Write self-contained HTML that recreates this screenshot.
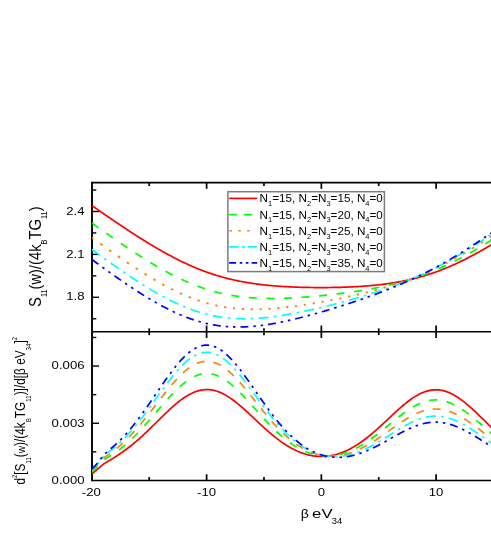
<!DOCTYPE html>
<html><head><meta charset="utf-8"><title>chart</title>
<style>html,body{margin:0;padding:0;background:#fff;}body{width:491px;height:545px;overflow:hidden;font-family:"Liberation Sans",sans-serif;}svg{position:absolute;left:0;top:0}</style>
</head><body>
<svg width="491" height="545" viewBox="0 0 491 545" style="display:block">
<rect width="491" height="545" fill="#fff"/>
<defs><clipPath id="ct"><rect x="92" y="183.4" width="400" height="147.4"/></clipPath><clipPath id="cb"><rect x="92" y="332.3" width="400" height="147.4"/></clipPath></defs>
<g stroke="#000" fill="none">
<line x1="92.0" y1="181.79999999999998" x2="92.0" y2="481.25" stroke-width="1.9"/>
<line x1="92.0" y1="182.6" x2="491" y2="182.6" stroke-width="1.6"/>
<line x1="92.0" y1="331.75" x2="491" y2="331.75" stroke-width="1.6"/>
<line x1="92.0" y1="480.45" x2="491" y2="480.45" stroke-width="1.6"/>
<line x1="149.22" y1="182.6" x2="149.22" y2="186.0" stroke-width="1.7"/>
<line x1="149.22" y1="328.35" x2="149.22" y2="335.15" stroke-width="1.7"/>
<line x1="149.22" y1="477.05" x2="149.22" y2="480.45" stroke-width="1.7"/>
<line x1="206.60" y1="182.6" x2="206.60" y2="188.79999999999998" stroke-width="1.7"/>
<line x1="206.60" y1="325.55" x2="206.60" y2="337.95" stroke-width="1.7"/>
<line x1="206.60" y1="474.25" x2="206.60" y2="480.45" stroke-width="1.7"/>
<line x1="263.98" y1="182.6" x2="263.98" y2="186.0" stroke-width="1.7"/>
<line x1="263.98" y1="328.35" x2="263.98" y2="335.15" stroke-width="1.7"/>
<line x1="263.98" y1="477.05" x2="263.98" y2="480.45" stroke-width="1.7"/>
<line x1="321.35" y1="182.6" x2="321.35" y2="188.79999999999998" stroke-width="1.7"/>
<line x1="321.35" y1="325.55" x2="321.35" y2="337.95" stroke-width="1.7"/>
<line x1="321.35" y1="474.25" x2="321.35" y2="480.45" stroke-width="1.7"/>
<line x1="378.73" y1="182.6" x2="378.73" y2="186.0" stroke-width="1.7"/>
<line x1="378.73" y1="328.35" x2="378.73" y2="335.15" stroke-width="1.7"/>
<line x1="378.73" y1="477.05" x2="378.73" y2="480.45" stroke-width="1.7"/>
<line x1="436.10" y1="182.6" x2="436.10" y2="188.79999999999998" stroke-width="1.7"/>
<line x1="436.10" y1="325.55" x2="436.10" y2="337.95" stroke-width="1.7"/>
<line x1="436.10" y1="474.25" x2="436.10" y2="480.45" stroke-width="1.7"/>
<line x1="493.48" y1="182.6" x2="493.48" y2="186.0" stroke-width="1.7"/>
<line x1="493.48" y1="328.35" x2="493.48" y2="335.15" stroke-width="1.7"/>
<line x1="493.48" y1="477.05" x2="493.48" y2="480.45" stroke-width="1.7"/>
<line x1="92.0" y1="318.75" x2="96.3" y2="318.75" stroke-width="1.4"/>
<line x1="92.0" y1="297.30" x2="99.0" y2="297.30" stroke-width="1.4"/>
<line x1="92.0" y1="275.85" x2="96.3" y2="275.85" stroke-width="1.4"/>
<line x1="92.0" y1="254.40" x2="99.0" y2="254.40" stroke-width="1.4"/>
<line x1="92.0" y1="232.95" x2="96.3" y2="232.95" stroke-width="1.4"/>
<line x1="92.0" y1="211.50" x2="99.0" y2="211.50" stroke-width="1.4"/>
<line x1="92.0" y1="190.05" x2="96.3" y2="190.05" stroke-width="1.4"/>
<line x1="92.0" y1="451.85" x2="96.3" y2="451.85" stroke-width="1.4"/>
<line x1="92.0" y1="423.25" x2="99.0" y2="423.25" stroke-width="1.4"/>
<line x1="92.0" y1="394.65" x2="96.3" y2="394.65" stroke-width="1.4"/>
<line x1="92.0" y1="366.05" x2="99.0" y2="366.05" stroke-width="1.4"/>
<line x1="92.0" y1="337.45" x2="96.3" y2="337.45" stroke-width="1.4"/>
</g>
<g clip-path="url(#ct)" fill="none" stroke-width="1.7">
<path d="M92.0,205.67 L93.0,206.37 L94.0,207.07 L95.0,207.76 L96.0,208.46 L97.0,209.16 L98.0,209.85 L99.0,210.55 L100.0,211.24 L101.0,211.93 L102.0,212.63 L103.0,213.32 L104.0,214.01 L105.0,214.70 L106.0,215.39 L107.0,216.07 L108.0,216.76 L109.0,217.44 L110.0,218.13 L111.0,218.81 L112.0,219.49 L113.0,220.17 L114.0,220.85 L115.0,221.53 L116.0,222.21 L117.0,222.88 L118.0,223.55 L119.0,224.23 L120.0,224.90 L121.0,225.57 L122.0,226.24 L123.0,226.90 L124.0,227.57 L125.0,228.23 L126.0,228.89 L127.0,229.55 L128.0,230.21 L129.0,230.86 L130.0,231.52 L131.0,232.17 L132.0,232.82 L133.0,233.47 L134.0,234.11 L135.0,234.76 L136.0,235.40 L137.0,236.04 L138.0,236.68 L139.0,237.31 L140.0,237.94 L141.0,238.57 L142.0,239.20 L143.0,239.83 L144.0,240.45 L145.0,241.07 L146.0,241.69 L147.0,242.30 L148.0,242.91 L149.0,243.52 L150.0,244.13 L151.0,244.73 L152.0,245.33 L153.0,245.93 L154.0,246.52 L155.0,247.11 L156.0,247.70 L157.0,248.29 L158.0,248.87 L159.0,249.45 L160.0,250.02 L161.0,250.59 L162.0,251.16 L163.0,251.72 L164.0,252.28 L165.0,252.84 L166.0,253.39 L167.0,253.94 L168.0,254.48 L169.0,255.02 L170.0,255.56 L171.0,256.09 L172.0,256.62 L173.0,257.14 L174.0,257.66 L175.0,258.18 L176.0,258.69 L177.0,259.20 L178.0,259.70 L179.0,260.20 L180.0,260.69 L181.0,261.18 L182.0,261.67 L183.0,262.15 L184.0,262.62 L185.0,263.09 L186.0,263.56 L187.0,264.02 L188.0,264.47 L189.0,264.93 L190.0,265.37 L191.0,265.81 L192.0,266.25 L193.0,266.68 L194.0,267.11 L195.0,267.53 L196.0,267.95 L197.0,268.36 L198.0,268.76 L199.0,269.17 L200.0,269.56 L201.0,269.95 L202.0,270.34 L203.0,270.72 L204.0,271.10 L205.0,271.47 L206.0,271.83 L207.0,272.19 L208.0,272.55 L209.0,272.90 L210.0,273.24 L211.0,273.58 L212.0,273.91 L213.0,274.24 L214.0,274.57 L215.0,274.89 L216.0,275.20 L217.0,275.51 L218.0,275.81 L219.0,276.11 L220.0,276.40 L221.0,276.69 L222.0,276.98 L223.0,277.25 L224.0,277.53 L225.0,277.80 L226.0,278.06 L227.0,278.32 L228.0,278.57 L229.0,278.82 L230.0,279.07 L231.0,279.31 L232.0,279.54 L233.0,279.77 L234.0,280.00 L235.0,280.22 L236.0,280.44 L237.0,280.65 L238.0,280.86 L239.0,281.06 L240.0,281.26 L241.0,281.46 L242.0,281.65 L243.0,281.83 L244.0,282.02 L245.0,282.20 L246.0,282.37 L247.0,282.54 L248.0,282.71 L249.0,282.87 L250.0,283.03 L251.0,283.19 L252.0,283.34 L253.0,283.49 L254.0,283.63 L255.0,283.77 L256.0,283.91 L257.0,284.04 L258.0,284.17 L259.0,284.30 L260.0,284.42 L261.0,284.54 L262.0,284.66 L263.0,284.78 L264.0,284.89 L265.0,285.00 L266.0,285.10 L267.0,285.21 L268.0,285.30 L269.0,285.40 L270.0,285.50 L271.0,285.59 L272.0,285.68 L273.0,285.76 L274.0,285.85 L275.0,285.93 L276.0,286.01 L277.0,286.08 L278.0,286.16 L279.0,286.23 L280.0,286.30 L281.0,286.36 L282.0,286.43 L283.0,286.49 L284.0,286.55 L285.0,286.61 L286.0,286.67 L287.0,286.72 L288.0,286.77 L289.0,286.82 L290.0,286.87 L291.0,286.92 L292.0,286.96 L293.0,287.01 L294.0,287.05 L295.0,287.09 L296.0,287.12 L297.0,287.16 L298.0,287.19 L299.0,287.23 L300.0,287.26 L301.0,287.29 L302.0,287.31 L303.0,287.34 L304.0,287.37 L305.0,287.39 L306.0,287.41 L307.0,287.43 L308.0,287.45 L309.0,287.47 L310.0,287.48 L311.0,287.50 L312.0,287.51 L313.0,287.52 L314.0,287.53 L315.0,287.54 L316.0,287.55 L317.0,287.55 L318.0,287.56 L319.0,287.56 L320.0,287.56 L321.0,287.56 L322.0,287.56 L323.0,287.56 L324.0,287.56 L325.0,287.55 L326.0,287.54 L327.0,287.54 L328.0,287.53 L329.0,287.52 L330.0,287.50 L331.0,287.49 L332.0,287.48 L333.0,287.46 L334.0,287.44 L335.0,287.42 L336.0,287.40 L337.0,287.38 L338.0,287.36 L339.0,287.33 L340.0,287.31 L341.0,287.28 L342.0,287.25 L343.0,287.22 L344.0,287.18 L345.0,287.15 L346.0,287.11 L347.0,287.07 L348.0,287.03 L349.0,286.99 L350.0,286.95 L351.0,286.91 L352.0,286.86 L353.0,286.81 L354.0,286.76 L355.0,286.71 L356.0,286.65 L357.0,286.60 L358.0,286.54 L359.0,286.48 L360.0,286.42 L361.0,286.35 L362.0,286.28 L363.0,286.21 L364.0,286.14 L365.0,286.07 L366.0,285.99 L367.0,285.92 L368.0,285.83 L369.0,285.75 L370.0,285.67 L371.0,285.58 L372.0,285.49 L373.0,285.39 L374.0,285.30 L375.0,285.20 L376.0,285.10 L377.0,284.99 L378.0,284.88 L379.0,284.77 L380.0,284.66 L381.0,284.54 L382.0,284.42 L383.0,284.30 L384.0,284.17 L385.0,284.04 L386.0,283.91 L387.0,283.77 L388.0,283.63 L389.0,283.49 L390.0,283.34 L391.0,283.19 L392.0,283.04 L393.0,282.88 L394.0,282.72 L395.0,282.55 L396.0,282.39 L397.0,282.21 L398.0,282.04 L399.0,281.85 L400.0,281.67 L401.0,281.48 L402.0,281.29 L403.0,281.09 L404.0,280.89 L405.0,280.68 L406.0,280.47 L407.0,280.26 L408.0,280.04 L409.0,279.81 L410.0,279.58 L411.0,279.35 L412.0,279.11 L413.0,278.87 L414.0,278.62 L415.0,278.37 L416.0,278.11 L417.0,277.85 L418.0,277.59 L419.0,277.32 L420.0,277.04 L421.0,276.76 L422.0,276.47 L423.0,276.18 L424.0,275.89 L425.0,275.59 L426.0,275.28 L427.0,274.97 L428.0,274.65 L429.0,274.33 L430.0,274.00 L431.0,273.67 L432.0,273.34 L433.0,272.99 L434.0,272.65 L435.0,272.30 L436.0,271.94 L437.0,271.58 L438.0,271.21 L439.0,270.84 L440.0,270.46 L441.0,270.07 L442.0,269.69 L443.0,269.29 L444.0,268.89 L445.0,268.49 L446.0,268.08 L447.0,267.67 L448.0,267.25 L449.0,266.83 L450.0,266.40 L451.0,265.96 L452.0,265.52 L453.0,265.08 L454.0,264.63 L455.0,264.18 L456.0,263.72 L457.0,263.26 L458.0,262.79 L459.0,262.32 L460.0,261.84 L461.0,261.36 L462.0,260.87 L463.0,260.38 L464.0,259.89 L465.0,259.39 L466.0,258.88 L467.0,258.37 L468.0,257.86 L469.0,257.34 L470.0,256.82 L471.0,256.29 L472.0,255.76 L473.0,255.23 L474.0,254.69 L475.0,254.15 L476.0,253.60 L477.0,253.05 L478.0,252.50 L479.0,251.94 L480.0,251.38 L481.0,250.82 L482.0,250.25 L483.0,249.68 L484.0,249.10 L485.0,248.52 L486.0,247.94 L487.0,247.35 L488.0,246.76 L489.0,246.17 L490.0,245.58 L491.0,244.98 L492.0,244.38 L493.0,243.77 L494.0,243.17 L495.0,242.56 L496.0,241.94 L497.0,241.33" stroke="#ff0000"/>
<path d="M92.0,223.03 L93.0,223.75 L94.0,224.47 L95.0,225.19 L96.0,225.91 L97.0,226.62 L98.0,227.34 L99.0,228.05 L100.0,228.76 L101.0,229.47 L102.0,230.18 L103.0,230.89 L104.0,231.60 L105.0,232.31 L106.0,233.02 L107.0,233.72 L108.0,234.42 L109.0,235.13 L110.0,235.83 L111.0,236.53 L112.0,237.23 L113.0,237.92 L114.0,238.62 L115.0,239.31 L116.0,240.00 L117.0,240.70 L118.0,241.38 L119.0,242.07 L120.0,242.76 L121.0,243.44 L122.0,244.12 L123.0,244.80 L124.0,245.48 L125.0,246.16 L126.0,246.83 L127.0,247.50 L128.0,248.18 L129.0,248.84 L130.0,249.51 L131.0,250.17 L132.0,250.83 L133.0,251.49 L134.0,252.15 L135.0,252.80 L136.0,253.45 L137.0,254.10 L138.0,254.75 L139.0,255.39 L140.0,256.03 L141.0,256.67 L142.0,257.31 L143.0,257.94 L144.0,258.57 L145.0,259.19 L146.0,259.81 L147.0,260.43 L148.0,261.05 L149.0,261.66 L150.0,262.27 L151.0,262.88 L152.0,263.48 L153.0,264.08 L154.0,264.67 L155.0,265.27 L156.0,265.85 L157.0,266.44 L158.0,267.02 L159.0,267.59 L160.0,268.16 L161.0,268.73 L162.0,269.30 L163.0,269.85 L164.0,270.41 L165.0,270.96 L166.0,271.51 L167.0,272.05 L168.0,272.58 L169.0,273.12 L170.0,273.64 L171.0,274.17 L172.0,274.68 L173.0,275.20 L174.0,275.70 L175.0,276.21 L176.0,276.71 L177.0,277.20 L178.0,277.69 L179.0,278.17 L180.0,278.64 L181.0,279.12 L182.0,279.58 L183.0,280.04 L184.0,280.50 L185.0,280.95 L186.0,281.39 L187.0,281.83 L188.0,282.26 L189.0,282.69 L190.0,283.11 L191.0,283.53 L192.0,283.94 L193.0,284.34 L194.0,284.74 L195.0,285.13 L196.0,285.52 L197.0,285.90 L198.0,286.27 L199.0,286.64 L200.0,287.00 L201.0,287.36 L202.0,287.71 L203.0,288.05 L204.0,288.39 L205.0,288.72 L206.0,289.05 L207.0,289.37 L208.0,289.68 L209.0,289.99 L210.0,290.29 L211.0,290.59 L212.0,290.87 L213.0,291.16 L214.0,291.43 L215.0,291.71 L216.0,291.97 L217.0,292.23 L218.0,292.48 L219.0,292.73 L220.0,292.97 L221.0,293.21 L222.0,293.44 L223.0,293.66 L224.0,293.88 L225.0,294.09 L226.0,294.30 L227.0,294.50 L228.0,294.69 L229.0,294.88 L230.0,295.06 L231.0,295.24 L232.0,295.42 L233.0,295.58 L234.0,295.75 L235.0,295.90 L236.0,296.05 L237.0,296.20 L238.0,296.34 L239.0,296.48 L240.0,296.61 L241.0,296.73 L242.0,296.85 L243.0,296.97 L244.0,297.08 L245.0,297.19 L246.0,297.29 L247.0,297.38 L248.0,297.48 L249.0,297.56 L250.0,297.65 L251.0,297.73 L252.0,297.80 L253.0,297.87 L254.0,297.94 L255.0,298.00 L256.0,298.06 L257.0,298.11 L258.0,298.16 L259.0,298.21 L260.0,298.25 L261.0,298.29 L262.0,298.32 L263.0,298.35 L264.0,298.38 L265.0,298.41 L266.0,298.43 L267.0,298.44 L268.0,298.46 L269.0,298.47 L270.0,298.47 L271.0,298.48 L272.0,298.48 L273.0,298.48 L274.0,298.47 L275.0,298.47 L276.0,298.45 L277.0,298.44 L278.0,298.43 L279.0,298.41 L280.0,298.38 L281.0,298.36 L282.0,298.33 L283.0,298.30 L284.0,298.27 L285.0,298.24 L286.0,298.20 L287.0,298.16 L288.0,298.12 L289.0,298.08 L290.0,298.03 L291.0,297.99 L292.0,297.94 L293.0,297.88 L294.0,297.83 L295.0,297.77 L296.0,297.72 L297.0,297.66 L298.0,297.60 L299.0,297.53 L300.0,297.47 L301.0,297.40 L302.0,297.33 L303.0,297.26 L304.0,297.19 L305.0,297.11 L306.0,297.04 L307.0,296.96 L308.0,296.88 L309.0,296.80 L310.0,296.72 L311.0,296.64 L312.0,296.55 L313.0,296.46 L314.0,296.38 L315.0,296.29 L316.0,296.20 L317.0,296.10 L318.0,296.01 L319.0,295.91 L320.0,295.82 L321.0,295.72 L322.0,295.62 L323.0,295.52 L324.0,295.42 L325.0,295.31 L326.0,295.21 L327.0,295.10 L328.0,294.99 L329.0,294.88 L330.0,294.77 L331.0,294.66 L332.0,294.55 L333.0,294.43 L334.0,294.31 L335.0,294.20 L336.0,294.08 L337.0,293.96 L338.0,293.83 L339.0,293.71 L340.0,293.59 L341.0,293.46 L342.0,293.33 L343.0,293.20 L344.0,293.07 L345.0,292.94 L346.0,292.80 L347.0,292.67 L348.0,292.53 L349.0,292.39 L350.0,292.25 L351.0,292.11 L352.0,291.96 L353.0,291.82 L354.0,291.67 L355.0,291.52 L356.0,291.37 L357.0,291.22 L358.0,291.06 L359.0,290.91 L360.0,290.75 L361.0,290.59 L362.0,290.42 L363.0,290.26 L364.0,290.09 L365.0,289.92 L366.0,289.75 L367.0,289.58 L368.0,289.40 L369.0,289.23 L370.0,289.05 L371.0,288.86 L372.0,288.68 L373.0,288.49 L374.0,288.30 L375.0,288.11 L376.0,287.92 L377.0,287.72 L378.0,287.52 L379.0,287.32 L380.0,287.11 L381.0,286.91 L382.0,286.70 L383.0,286.48 L384.0,286.27 L385.0,286.05 L386.0,285.83 L387.0,285.60 L388.0,285.37 L389.0,285.14 L390.0,284.91 L391.0,284.67 L392.0,284.43 L393.0,284.18 L394.0,283.94 L395.0,283.68 L396.0,283.43 L397.0,283.17 L398.0,282.91 L399.0,282.65 L400.0,282.38 L401.0,282.10 L402.0,281.83 L403.0,281.55 L404.0,281.26 L405.0,280.98 L406.0,280.69 L407.0,280.39 L408.0,280.09 L409.0,279.79 L410.0,279.48 L411.0,279.17 L412.0,278.85 L413.0,278.53 L414.0,278.21 L415.0,277.88 L416.0,277.55 L417.0,277.21 L418.0,276.87 L419.0,276.53 L420.0,276.18 L421.0,275.82 L422.0,275.47 L423.0,275.10 L424.0,274.74 L425.0,274.36 L426.0,273.99 L427.0,273.61 L428.0,273.22 L429.0,272.83 L430.0,272.44 L431.0,272.04 L432.0,271.63 L433.0,271.23 L434.0,270.81 L435.0,270.40 L436.0,269.98 L437.0,269.55 L438.0,269.12 L439.0,268.68 L440.0,268.24 L441.0,267.80 L442.0,267.35 L443.0,266.89 L444.0,266.44 L445.0,265.97 L446.0,265.51 L447.0,265.03 L448.0,264.56 L449.0,264.08 L450.0,263.59 L451.0,263.10 L452.0,262.61 L453.0,262.11 L454.0,261.61 L455.0,261.10 L456.0,260.59 L457.0,260.07 L458.0,259.55 L459.0,259.03 L460.0,258.50 L461.0,257.97 L462.0,257.43 L463.0,256.89 L464.0,256.35 L465.0,255.80 L466.0,255.25 L467.0,254.69 L468.0,254.13 L469.0,253.57 L470.0,253.00 L471.0,252.43 L472.0,251.85 L473.0,251.27 L474.0,250.69 L475.0,250.10 L476.0,249.52 L477.0,248.92 L478.0,248.33 L479.0,247.73 L480.0,247.12 L481.0,246.52 L482.0,245.91 L483.0,245.30 L484.0,244.68 L485.0,244.06 L486.0,243.44 L487.0,242.82 L488.0,242.19 L489.0,241.56 L490.0,240.93 L491.0,240.29 L492.0,239.65 L493.0,239.01 L494.0,238.37 L495.0,237.72 L496.0,237.07 L497.0,236.42" stroke="#00ff00" stroke-dasharray="8 9.6"/>
<path d="M91.40,237.59 L93.60,238.75 M100.25,243.57 L102.45,245.15 M109.10,249.90 L111.30,251.46 M117.95,256.11 L120.15,257.64 M126.80,262.18 L129.00,263.66 M135.65,268.06 L137.85,269.49 M144.50,273.72 L146.70,275.09 M153.35,279.11 L155.55,280.40 M162.20,284.17 L164.40,285.37 M171.05,288.86 L173.25,289.96 M179.90,293.12 L182.10,294.11 M188.75,296.92 L190.95,297.79 M197.60,300.22 L199.80,300.96 M206.45,303.00 L208.65,303.61 M215.30,305.25 L217.50,305.73 M224.15,306.97 L226.35,307.32 M233.00,308.20 L235.20,308.43 M241.85,308.95 L244.05,309.07 M250.70,309.28 L252.90,309.30 M259.55,309.23 L261.75,309.16 M268.40,308.84 L270.60,308.70 M277.25,308.18 L279.45,307.98 M286.10,307.28 L288.30,307.02 M294.95,306.18 L297.15,305.88 M303.80,304.92 L306.00,304.58 M312.65,303.51 L314.85,303.14 M321.50,301.98 L323.70,301.58 M330.35,300.33 L332.55,299.91 M339.20,298.58 L341.40,298.13 M348.05,296.72 L350.25,296.23 M356.90,294.73 L359.10,294.22 M365.75,292.61 L367.95,292.07 M374.60,290.34 L376.80,289.75 M383.45,287.89 L385.65,287.25 M392.30,285.24 L394.50,284.55 M401.15,282.36 L403.35,281.60 M410.00,279.21 L412.20,278.39 M418.85,275.79 L421.05,274.89 M427.70,272.06 L429.90,271.08 M436.55,268.01 L438.75,266.96 M445.40,263.65 L447.60,262.52 M454.25,258.97 L456.45,257.77 M463.10,254.00 L465.30,252.72 M471.95,248.75 L474.15,247.40 M480.80,243.25 L483.00,241.84 M489.65,237.52 L491.85,236.07" stroke="#f08a10" stroke-width="1.9"/>
<path d="M92.0,249.50 L93.0,250.23 L94.0,250.96 L95.0,251.69 L96.0,252.43 L97.0,253.16 L98.0,253.88 L99.0,254.61 L100.0,255.34 L101.0,256.06 L102.0,256.79 L103.0,257.51 L104.0,258.23 L105.0,258.95 L106.0,259.67 L107.0,260.39 L108.0,261.10 L109.0,261.82 L110.0,262.53 L111.0,263.24 L112.0,263.95 L113.0,264.65 L114.0,265.36 L115.0,266.06 L116.0,266.77 L117.0,267.47 L118.0,268.16 L119.0,268.86 L120.0,269.55 L121.0,270.25 L122.0,270.93 L123.0,271.62 L124.0,272.31 L125.0,272.99 L126.0,273.67 L127.0,274.35 L128.0,275.02 L129.0,275.70 L130.0,276.37 L131.0,277.03 L132.0,277.70 L133.0,278.36 L134.0,279.02 L135.0,279.67 L136.0,280.33 L137.0,280.98 L138.0,281.62 L139.0,282.27 L140.0,282.91 L141.0,283.54 L142.0,284.18 L143.0,284.80 L144.0,285.43 L145.0,286.05 L146.0,286.67 L147.0,287.29 L148.0,287.90 L149.0,288.50 L150.0,289.11 L151.0,289.70 L152.0,290.30 L153.0,290.89 L154.0,291.47 L155.0,292.05 L156.0,292.63 L157.0,293.20 L158.0,293.77 L159.0,294.33 L160.0,294.89 L161.0,295.44 L162.0,295.99 L163.0,296.53 L164.0,297.07 L165.0,297.60 L166.0,298.12 L167.0,298.64 L168.0,299.16 L169.0,299.67 L170.0,300.17 L171.0,300.67 L172.0,301.16 L173.0,301.65 L174.0,302.13 L175.0,302.61 L176.0,303.08 L177.0,303.54 L178.0,303.99 L179.0,304.44 L180.0,304.89 L181.0,305.33 L182.0,305.76 L183.0,306.18 L184.0,306.60 L185.0,307.01 L186.0,307.41 L187.0,307.81 L188.0,308.20 L189.0,308.59 L190.0,308.96 L191.0,309.33 L192.0,309.70 L193.0,310.05 L194.0,310.40 L195.0,310.74 L196.0,311.08 L197.0,311.41 L198.0,311.73 L199.0,312.04 L200.0,312.34 L201.0,312.64 L202.0,312.94 L203.0,313.22 L204.0,313.50 L205.0,313.77 L206.0,314.03 L207.0,314.28 L208.0,314.53 L209.0,314.77 L210.0,315.01 L211.0,315.23 L212.0,315.45 L213.0,315.66 L214.0,315.87 L215.0,316.06 L216.0,316.25 L217.0,316.44 L218.0,316.61 L219.0,316.78 L220.0,316.94 L221.0,317.09 L222.0,317.24 L223.0,317.38 L224.0,317.52 L225.0,317.64 L226.0,317.76 L227.0,317.87 L228.0,317.98 L229.0,318.08 L230.0,318.17 L231.0,318.26 L232.0,318.34 L233.0,318.41 L234.0,318.47 L235.0,318.53 L236.0,318.59 L237.0,318.63 L238.0,318.68 L239.0,318.71 L240.0,318.74 L241.0,318.76 L242.0,318.78 L243.0,318.79 L244.0,318.80 L245.0,318.80 L246.0,318.79 L247.0,318.78 L248.0,318.76 L249.0,318.74 L250.0,318.71 L251.0,318.68 L252.0,318.64 L253.0,318.60 L254.0,318.55 L255.0,318.50 L256.0,318.44 L257.0,318.37 L258.0,318.31 L259.0,318.23 L260.0,318.16 L261.0,318.08 L262.0,317.99 L263.0,317.90 L264.0,317.81 L265.0,317.71 L266.0,317.61 L267.0,317.50 L268.0,317.39 L269.0,317.27 L270.0,317.16 L271.0,317.03 L272.0,316.91 L273.0,316.78 L274.0,316.65 L275.0,316.51 L276.0,316.37 L277.0,316.23 L278.0,316.08 L279.0,315.93 L280.0,315.78 L281.0,315.62 L282.0,315.47 L283.0,315.31 L284.0,315.14 L285.0,314.97 L286.0,314.80 L287.0,314.63 L288.0,314.46 L289.0,314.28 L290.0,314.10 L291.0,313.92 L292.0,313.73 L293.0,313.54 L294.0,313.35 L295.0,313.16 L296.0,312.97 L297.0,312.77 L298.0,312.57 L299.0,312.37 L300.0,312.17 L301.0,311.96 L302.0,311.76 L303.0,311.55 L304.0,311.34 L305.0,311.12 L306.0,310.91 L307.0,310.69 L308.0,310.47 L309.0,310.25 L310.0,310.03 L311.0,309.81 L312.0,309.59 L313.0,309.36 L314.0,309.13 L315.0,308.90 L316.0,308.67 L317.0,308.44 L318.0,308.20 L319.0,307.97 L320.0,307.73 L321.0,307.49 L322.0,307.25 L323.0,307.01 L324.0,306.77 L325.0,306.52 L326.0,306.27 L327.0,306.03 L328.0,305.78 L329.0,305.53 L330.0,305.28 L331.0,305.02 L332.0,304.77 L333.0,304.51 L334.0,304.26 L335.0,304.00 L336.0,303.74 L337.0,303.48 L338.0,303.22 L339.0,302.95 L340.0,302.69 L341.0,302.42 L342.0,302.15 L343.0,301.89 L344.0,301.61 L345.0,301.34 L346.0,301.07 L347.0,300.79 L348.0,300.52 L349.0,300.24 L350.0,299.96 L351.0,299.68 L352.0,299.40 L353.0,299.12 L354.0,298.83 L355.0,298.54 L356.0,298.26 L357.0,297.97 L358.0,297.68 L359.0,297.38 L360.0,297.09 L361.0,296.79 L362.0,296.49 L363.0,296.20 L364.0,295.89 L365.0,295.59 L366.0,295.29 L367.0,294.98 L368.0,294.67 L369.0,294.36 L370.0,294.05 L371.0,293.73 L372.0,293.42 L373.0,293.10 L374.0,292.78 L375.0,292.46 L376.0,292.13 L377.0,291.81 L378.0,291.48 L379.0,291.15 L380.0,290.82 L381.0,290.48 L382.0,290.14 L383.0,289.81 L384.0,289.46 L385.0,289.12 L386.0,288.77 L387.0,288.42 L388.0,288.07 L389.0,287.72 L390.0,287.36 L391.0,287.00 L392.0,286.64 L393.0,286.27 L394.0,285.91 L395.0,285.54 L396.0,285.16 L397.0,284.79 L398.0,284.41 L399.0,284.03 L400.0,283.64 L401.0,283.26 L402.0,282.87 L403.0,282.47 L404.0,282.08 L405.0,281.68 L406.0,281.28 L407.0,280.87 L408.0,280.46 L409.0,280.05 L410.0,279.63 L411.0,279.22 L412.0,278.79 L413.0,278.37 L414.0,277.94 L415.0,277.51 L416.0,277.07 L417.0,276.63 L418.0,276.19 L419.0,275.75 L420.0,275.30 L421.0,274.85 L422.0,274.39 L423.0,273.93 L424.0,273.47 L425.0,273.00 L426.0,272.53 L427.0,272.06 L428.0,271.58 L429.0,271.10 L430.0,270.61 L431.0,270.12 L432.0,269.63 L433.0,269.14 L434.0,268.64 L435.0,268.13 L436.0,267.63 L437.0,267.12 L438.0,266.60 L439.0,266.08 L440.0,265.56 L441.0,265.04 L442.0,264.51 L443.0,263.98 L444.0,263.44 L445.0,262.90 L446.0,262.36 L447.0,261.81 L448.0,261.26 L449.0,260.71 L450.0,260.15 L451.0,259.59 L452.0,259.02 L453.0,258.46 L454.0,257.88 L455.0,257.31 L456.0,256.73 L457.0,256.15 L458.0,255.56 L459.0,254.98 L460.0,254.38 L461.0,253.79 L462.0,253.19 L463.0,252.59 L464.0,251.98 L465.0,251.38 L466.0,250.76 L467.0,250.15 L468.0,249.53 L469.0,248.91 L470.0,248.29 L471.0,247.66 L472.0,247.03 L473.0,246.40 L474.0,245.77 L475.0,245.13 L476.0,244.49 L477.0,243.85 L478.0,243.20 L479.0,242.55 L480.0,241.90 L481.0,241.25 L482.0,240.59 L483.0,239.93 L484.0,239.27 L485.0,238.61 L486.0,237.94 L487.0,237.27 L488.0,236.60 L489.0,235.93 L490.0,235.25 L491.0,234.57 L492.0,233.89 L493.0,233.21 L494.0,232.53 L495.0,231.84 L496.0,231.16 L497.0,230.47" stroke="#00ffff" stroke-dasharray="10 5.3 2.5 5.3"/>
<path d="M92.0,259.53 L93.0,260.26 L94.0,261.00 L95.0,261.73 L96.0,262.47 L97.0,263.20 L98.0,263.93 L99.0,264.66 L100.0,265.39 L101.0,266.12 L102.0,266.84 L103.0,267.57 L104.0,268.29 L105.0,269.01 L106.0,269.73 L107.0,270.45 L108.0,271.17 L109.0,271.89 L110.0,272.60 L111.0,273.31 L112.0,274.02 L113.0,274.73 L114.0,275.44 L115.0,276.14 L116.0,276.85 L117.0,277.55 L118.0,278.25 L119.0,278.94 L120.0,279.64 L121.0,280.33 L122.0,281.02 L123.0,281.71 L124.0,282.39 L125.0,283.08 L126.0,283.76 L127.0,284.43 L128.0,285.11 L129.0,285.78 L130.0,286.45 L131.0,287.12 L132.0,287.78 L133.0,288.44 L134.0,289.10 L135.0,289.75 L136.0,290.40 L137.0,291.05 L138.0,291.70 L139.0,292.34 L140.0,292.97 L141.0,293.61 L142.0,294.24 L143.0,294.86 L144.0,295.49 L145.0,296.11 L146.0,296.72 L147.0,297.33 L148.0,297.94 L149.0,298.54 L150.0,299.14 L151.0,299.73 L152.0,300.32 L153.0,300.90 L154.0,301.48 L155.0,302.06 L156.0,302.63 L157.0,303.20 L158.0,303.76 L159.0,304.31 L160.0,304.86 L161.0,305.41 L162.0,305.95 L163.0,306.48 L164.0,307.01 L165.0,307.53 L166.0,308.05 L167.0,308.56 L168.0,309.07 L169.0,309.57 L170.0,310.06 L171.0,310.55 L172.0,311.03 L173.0,311.51 L174.0,311.98 L175.0,312.44 L176.0,312.90 L177.0,313.35 L178.0,313.79 L179.0,314.23 L180.0,314.66 L181.0,315.08 L182.0,315.50 L183.0,315.91 L184.0,316.31 L185.0,316.71 L186.0,317.10 L187.0,317.48 L188.0,317.85 L189.0,318.22 L190.0,318.58 L191.0,318.93 L192.0,319.28 L193.0,319.61 L194.0,319.94 L195.0,320.27 L196.0,320.58 L197.0,320.89 L198.0,321.19 L199.0,321.48 L200.0,321.77 L201.0,322.05 L202.0,322.32 L203.0,322.58 L204.0,322.83 L205.0,323.08 L206.0,323.32 L207.0,323.55 L208.0,323.77 L209.0,323.99 L210.0,324.20 L211.0,324.40 L212.0,324.59 L213.0,324.78 L214.0,324.95 L215.0,325.12 L216.0,325.28 L217.0,325.44 L218.0,325.59 L219.0,325.73 L220.0,325.86 L221.0,325.98 L222.0,326.10 L223.0,326.21 L224.0,326.31 L225.0,326.41 L226.0,326.50 L227.0,326.58 L228.0,326.65 L229.0,326.72 L230.0,326.78 L231.0,326.83 L232.0,326.87 L233.0,326.91 L234.0,326.94 L235.0,326.97 L236.0,326.99 L237.0,327.00 L238.0,327.00 L239.0,327.00 L240.0,327.00 L241.0,326.98 L242.0,326.96 L243.0,326.94 L244.0,326.90 L245.0,326.86 L246.0,326.82 L247.0,326.77 L248.0,326.71 L249.0,326.65 L250.0,326.58 L251.0,326.51 L252.0,326.43 L253.0,326.35 L254.0,326.26 L255.0,326.17 L256.0,326.07 L257.0,325.96 L258.0,325.85 L259.0,325.74 L260.0,325.62 L261.0,325.50 L262.0,325.37 L263.0,325.24 L264.0,325.10 L265.0,324.96 L266.0,324.81 L267.0,324.66 L268.0,324.50 L269.0,324.35 L270.0,324.18 L271.0,324.02 L272.0,323.85 L273.0,323.67 L274.0,323.49 L275.0,323.31 L276.0,323.13 L277.0,322.94 L278.0,322.75 L279.0,322.55 L280.0,322.35 L281.0,322.15 L282.0,321.95 L283.0,321.74 L284.0,321.53 L285.0,321.31 L286.0,321.10 L287.0,320.88 L288.0,320.65 L289.0,320.43 L290.0,320.20 L291.0,319.97 L292.0,319.74 L293.0,319.50 L294.0,319.27 L295.0,319.02 L296.0,318.78 L297.0,318.54 L298.0,318.29 L299.0,318.04 L300.0,317.79 L301.0,317.54 L302.0,317.28 L303.0,317.02 L304.0,316.76 L305.0,316.50 L306.0,316.24 L307.0,315.97 L308.0,315.71 L309.0,315.44 L310.0,315.17 L311.0,314.89 L312.0,314.62 L313.0,314.34 L314.0,314.07 L315.0,313.79 L316.0,313.51 L317.0,313.23 L318.0,312.94 L319.0,312.66 L320.0,312.37 L321.0,312.08 L322.0,311.79 L323.0,311.50 L324.0,311.21 L325.0,310.91 L326.0,310.62 L327.0,310.32 L328.0,310.02 L329.0,309.72 L330.0,309.42 L331.0,309.12 L332.0,308.82 L333.0,308.51 L334.0,308.21 L335.0,307.90 L336.0,307.59 L337.0,307.28 L338.0,306.97 L339.0,306.66 L340.0,306.34 L341.0,306.03 L342.0,305.71 L343.0,305.39 L344.0,305.07 L345.0,304.75 L346.0,304.43 L347.0,304.11 L348.0,303.78 L349.0,303.46 L350.0,303.13 L351.0,302.80 L352.0,302.47 L353.0,302.14 L354.0,301.80 L355.0,301.47 L356.0,301.13 L357.0,300.80 L358.0,300.46 L359.0,300.12 L360.0,299.77 L361.0,299.43 L362.0,299.09 L363.0,298.74 L364.0,298.39 L365.0,298.04 L366.0,297.69 L367.0,297.34 L368.0,296.98 L369.0,296.62 L370.0,296.27 L371.0,295.91 L372.0,295.54 L373.0,295.18 L374.0,294.81 L375.0,294.45 L376.0,294.08 L377.0,293.71 L378.0,293.33 L379.0,292.96 L380.0,292.58 L381.0,292.20 L382.0,291.82 L383.0,291.44 L384.0,291.05 L385.0,290.66 L386.0,290.27 L387.0,289.88 L388.0,289.49 L389.0,289.09 L390.0,288.69 L391.0,288.29 L392.0,287.88 L393.0,287.48 L394.0,287.07 L395.0,286.66 L396.0,286.24 L397.0,285.83 L398.0,285.41 L399.0,284.99 L400.0,284.56 L401.0,284.14 L402.0,283.71 L403.0,283.27 L404.0,282.84 L405.0,282.40 L406.0,281.96 L407.0,281.52 L408.0,281.07 L409.0,280.62 L410.0,280.17 L411.0,279.71 L412.0,279.25 L413.0,278.79 L414.0,278.33 L415.0,277.86 L416.0,277.39 L417.0,276.92 L418.0,276.44 L419.0,275.96 L420.0,275.48 L421.0,274.99 L422.0,274.50 L423.0,274.01 L424.0,273.51 L425.0,273.01 L426.0,272.51 L427.0,272.00 L428.0,271.50 L429.0,270.98 L430.0,270.47 L431.0,269.95 L432.0,269.43 L433.0,268.90 L434.0,268.37 L435.0,267.84 L436.0,267.30 L437.0,266.77 L438.0,266.22 L439.0,265.68 L440.0,265.13 L441.0,264.58 L442.0,264.02 L443.0,263.46 L444.0,262.90 L445.0,262.34 L446.0,261.77 L447.0,261.20 L448.0,260.62 L449.0,260.04 L450.0,259.46 L451.0,258.88 L452.0,258.29 L453.0,257.70 L454.0,257.10 L455.0,256.51 L456.0,255.91 L457.0,255.30 L458.0,254.70 L459.0,254.09 L460.0,253.47 L461.0,252.86 L462.0,252.24 L463.0,251.62 L464.0,250.99 L465.0,250.37 L466.0,249.74 L467.0,249.10 L468.0,248.47 L469.0,247.83 L470.0,247.19 L471.0,246.55 L472.0,245.90 L473.0,245.25 L474.0,244.60 L475.0,243.94 L476.0,243.29 L477.0,242.63 L478.0,241.97 L479.0,241.30 L480.0,240.64 L481.0,239.97 L482.0,239.30 L483.0,238.62 L484.0,237.95 L485.0,237.27 L486.0,236.59 L487.0,235.91 L488.0,235.22 L489.0,234.54 L490.0,233.85 L491.0,233.16 L492.0,232.47 L493.0,231.77 L494.0,231.08 L495.0,230.38 L496.0,229.68 L497.0,228.98" stroke="#0000ff" stroke-dasharray="8 4.9 2.5 4.9 2.5 4.9"/>
</g>
<g clip-path="url(#cb)" fill="none" stroke-width="1.7">
<path d="M92.0,473.89 L93.0,473.11 L94.0,472.27 L95.0,471.42 L96.0,470.56 L97.0,469.69 L98.0,468.82 L99.0,467.95 L100.0,467.07 L101.0,466.17 L102.0,465.27 L103.0,464.35 L104.0,463.73 L105.0,463.14 L106.0,462.54 L107.0,461.92 L108.0,461.29 L109.0,460.73 L110.0,460.15 L111.0,459.57 L112.0,458.97 L113.0,458.36 L114.0,457.74 L115.0,457.10 L116.0,456.45 L117.0,455.80 L118.0,455.12 L119.0,454.44 L120.0,453.74 L121.0,453.07 L122.0,452.39 L123.0,451.70 L124.0,450.99 L125.0,450.27 L126.0,449.54 L127.0,448.80 L128.0,448.05 L129.0,447.28 L130.0,446.50 L131.0,445.71 L132.0,444.91 L133.0,444.09 L134.0,443.27 L135.0,442.44 L136.0,441.59 L137.0,440.73 L138.0,439.87 L139.0,438.99 L140.0,438.11 L141.0,437.20 L142.0,436.28 L143.0,435.35 L144.0,434.41 L145.0,433.47 L146.0,432.52 L147.0,431.57 L148.0,430.61 L149.0,429.64 L150.0,428.66 L151.0,427.69 L152.0,426.71 L153.0,425.72 L154.0,424.74 L155.0,423.75 L156.0,422.76 L157.0,421.77 L158.0,420.78 L159.0,419.79 L160.0,418.80 L161.0,417.82 L162.0,416.83 L163.0,415.86 L164.0,414.88 L165.0,413.92 L166.0,412.96 L167.0,412.00 L168.0,411.06 L169.0,410.12 L170.0,409.20 L171.0,408.28 L172.0,407.38 L173.0,406.49 L174.0,405.62 L175.0,404.75 L176.0,403.91 L177.0,403.08 L178.0,402.27 L179.0,401.47 L180.0,400.70 L181.0,399.94 L182.0,399.21 L183.0,398.49 L184.0,397.80 L185.0,397.13 L186.0,396.49 L187.0,395.87 L188.0,395.28 L189.0,394.71 L190.0,394.17 L191.0,393.66 L192.0,393.17 L193.0,392.72 L194.0,392.29 L195.0,391.89 L196.0,391.53 L197.0,391.19 L198.0,390.89 L199.0,390.61 L200.0,390.37 L201.0,390.17 L202.0,389.99 L203.0,389.85 L204.0,389.73 L205.0,389.66 L206.0,389.61 L207.0,389.60 L208.0,389.62 L209.0,389.68 L210.0,389.76 L211.0,389.88 L212.0,390.04 L213.0,390.22 L214.0,390.44 L215.0,390.69 L216.0,390.97 L217.0,391.28 L218.0,391.62 L219.0,391.99 L220.0,392.40 L221.0,392.83 L222.0,393.29 L223.0,393.77 L224.0,394.29 L225.0,394.83 L226.0,395.40 L227.0,395.99 L228.0,396.61 L229.0,397.25 L230.0,397.91 L231.0,398.60 L232.0,399.30 L233.0,400.03 L234.0,400.78 L235.0,401.54 L236.0,402.32 L237.0,403.12 L238.0,403.94 L239.0,404.77 L240.0,405.61 L241.0,406.46 L242.0,407.33 L243.0,408.21 L244.0,409.10 L245.0,410.00 L246.0,410.91 L247.0,411.82 L248.0,412.74 L249.0,413.67 L250.0,414.60 L251.0,415.54 L252.0,416.47 L253.0,417.41 L254.0,418.35 L255.0,419.30 L256.0,420.24 L257.0,421.18 L258.0,422.11 L259.0,423.05 L260.0,423.98 L261.0,424.91 L262.0,425.83 L263.0,426.74 L264.0,427.65 L265.0,428.56 L266.0,429.45 L267.0,430.34 L268.0,431.22 L269.0,432.09 L270.0,432.95 L271.0,433.80 L272.0,434.63 L273.0,435.46 L274.0,436.28 L275.0,437.08 L276.0,437.87 L277.0,438.64 L278.0,439.41 L279.0,440.16 L280.0,440.89 L281.0,441.61 L282.0,442.32 L283.0,443.01 L284.0,443.68 L285.0,444.34 L286.0,444.99 L287.0,445.62 L288.0,446.23 L289.0,446.82 L290.0,447.40 L291.0,447.96 L292.0,448.51 L293.0,449.03 L294.0,449.54 L295.0,450.04 L296.0,450.51 L297.0,450.97 L298.0,451.41 L299.0,451.83 L300.0,452.23 L301.0,452.62 L302.0,452.99 L303.0,453.34 L304.0,453.67 L305.0,453.98 L306.0,454.28 L307.0,454.55 L308.0,454.81 L309.0,455.05 L310.0,455.27 L311.0,455.47 L312.0,455.66 L313.0,455.82 L314.0,455.97 L315.0,456.10 L316.0,456.21 L317.0,456.30 L318.0,456.37 L319.0,456.42 L320.0,456.46 L321.0,456.47 L322.0,456.47 L323.0,456.45 L324.0,456.41 L325.0,456.36 L326.0,456.28 L327.0,456.18 L328.0,456.07 L329.0,455.94 L330.0,455.79 L331.0,455.62 L332.0,455.43 L333.0,455.22 L334.0,455.00 L335.0,454.76 L336.0,454.49 L337.0,454.21 L338.0,453.92 L339.0,453.60 L340.0,453.26 L341.0,452.91 L342.0,452.54 L343.0,452.15 L344.0,451.74 L345.0,451.32 L346.0,450.88 L347.0,450.41 L348.0,449.94 L349.0,449.44 L350.0,448.93 L351.0,448.40 L352.0,447.85 L353.0,447.28 L354.0,446.70 L355.0,446.10 L356.0,445.49 L357.0,444.86 L358.0,444.21 L359.0,443.55 L360.0,442.87 L361.0,442.18 L362.0,441.47 L363.0,440.75 L364.0,440.01 L365.0,439.26 L366.0,438.49 L367.0,437.71 L368.0,436.92 L369.0,436.12 L370.0,435.30 L371.0,434.48 L372.0,433.64 L373.0,432.79 L374.0,431.93 L375.0,431.06 L376.0,430.18 L377.0,429.29 L378.0,428.39 L379.0,427.49 L380.0,426.58 L381.0,425.67 L382.0,424.75 L383.0,423.82 L384.0,422.89 L385.0,421.96 L386.0,421.02 L387.0,420.08 L388.0,419.14 L389.0,418.20 L390.0,417.27 L391.0,416.33 L392.0,415.39 L393.0,414.46 L394.0,413.53 L395.0,412.61 L396.0,411.70 L397.0,410.79 L398.0,409.88 L399.0,408.99 L400.0,408.10 L401.0,407.23 L402.0,406.37 L403.0,405.52 L404.0,404.68 L405.0,403.86 L406.0,403.05 L407.0,402.26 L408.0,401.48 L409.0,400.72 L410.0,399.99 L411.0,399.27 L412.0,398.57 L413.0,397.89 L414.0,397.24 L415.0,396.60 L416.0,396.00 L417.0,395.41 L418.0,394.85 L419.0,394.32 L420.0,393.82 L421.0,393.34 L422.0,392.89 L423.0,392.47 L424.0,392.07 L425.0,391.71 L426.0,391.38 L427.0,391.08 L428.0,390.81 L429.0,390.57 L430.0,390.36 L431.0,390.19 L432.0,390.04 L433.0,389.93 L434.0,389.86 L435.0,389.81 L436.0,389.80 L437.0,389.82 L438.0,389.88 L439.0,389.96 L440.0,390.08 L441.0,390.24 L442.0,390.42 L443.0,390.64 L444.0,390.89 L445.0,391.17 L446.0,391.49 L447.0,391.83 L448.0,392.21 L449.0,392.61 L450.0,393.04 L451.0,393.51 L452.0,394.00 L453.0,394.52 L454.0,395.07 L455.0,395.64 L456.0,396.24 L457.0,396.87 L458.0,397.52 L459.0,398.19 L460.0,398.88 L461.0,399.60 L462.0,400.34 L463.0,401.10 L464.0,401.88 L465.0,402.68 L466.0,403.50 L467.0,404.33 L468.0,405.18 L469.0,406.04 L470.0,406.92 L471.0,407.81 L472.0,408.72 L473.0,409.63 L474.0,410.56 L475.0,411.49 L476.0,412.44 L477.0,413.39 L478.0,414.35 L479.0,415.32 L480.0,416.29 L481.0,417.27 L482.0,418.25 L483.0,419.23 L484.0,420.22 L485.0,421.21 L486.0,422.19 L487.0,423.18 L488.0,424.17 L489.0,425.15 L490.0,426.14 L491.0,427.12 L492.0,428.10 L493.0,429.07 L494.0,430.04 L495.0,431.00 L496.0,431.96 L497.0,432.91" stroke="#ff0000"/>
<path d="M92.0,472.25 L93.0,471.32 L94.0,470.32 L95.0,469.31 L96.0,468.28 L97.0,467.25 L98.0,466.23 L99.0,465.22 L100.0,464.19 L101.0,463.16 L102.0,462.11 L103.0,461.05 L104.0,460.20 L105.0,459.35 L106.0,458.51 L107.0,457.92 L108.0,457.32 L109.0,456.71 L110.0,456.08 L111.0,455.43 L112.0,454.78 L113.0,454.12 L114.0,453.44 L115.0,452.75 L116.0,452.05 L117.0,451.33 L118.0,450.59 L119.0,449.84 L120.0,449.08 L121.0,448.30 L122.0,447.51 L123.0,446.70 L124.0,445.88 L125.0,445.04 L126.0,444.19 L127.0,443.32 L128.0,442.44 L129.0,441.55 L130.0,440.64 L131.0,439.69 L132.0,438.73 L133.0,437.75 L134.0,436.77 L135.0,435.76 L136.0,434.75 L137.0,433.72 L138.0,432.69 L139.0,431.64 L140.0,430.58 L141.0,429.50 L142.0,428.42 L143.0,427.33 L144.0,426.23 L145.0,425.12 L146.0,424.00 L147.0,422.88 L148.0,421.74 L149.0,420.60 L150.0,419.46 L151.0,418.31 L152.0,417.15 L153.0,415.99 L154.0,414.83 L155.0,413.67 L156.0,412.50 L157.0,411.34 L158.0,410.17 L159.0,409.01 L160.0,407.84 L161.0,406.68 L162.0,405.53 L163.0,404.38 L164.0,403.23 L165.0,402.09 L166.0,400.96 L167.0,399.84 L168.0,398.73 L169.0,397.63 L170.0,396.54 L171.0,395.46 L172.0,394.40 L173.0,393.35 L174.0,392.32 L175.0,391.30 L176.0,390.31 L177.0,389.33 L178.0,388.38 L179.0,387.44 L180.0,386.53 L181.0,385.64 L182.0,384.78 L183.0,383.94 L184.0,383.12 L185.0,382.34 L186.0,381.58 L187.0,380.85 L188.0,380.16 L189.0,379.49 L190.0,378.85 L191.0,378.25 L192.0,377.68 L193.0,377.15 L194.0,376.65 L195.0,376.18 L196.0,375.75 L197.0,375.36 L198.0,375.00 L199.0,374.68 L200.0,374.40 L201.0,374.15 L202.0,373.95 L203.0,373.78 L204.0,373.65 L205.0,373.56 L206.0,373.51 L207.0,373.50 L208.0,373.53 L209.0,373.60 L210.0,373.70 L211.0,373.85 L212.0,374.03 L213.0,374.25 L214.0,374.51 L215.0,374.80 L216.0,375.14 L217.0,375.51 L218.0,375.92 L219.0,376.36 L220.0,376.84 L221.0,377.35 L222.0,377.89 L223.0,378.47 L224.0,379.08 L225.0,379.73 L226.0,380.40 L227.0,381.10 L228.0,381.83 L229.0,382.59 L230.0,383.38 L231.0,384.19 L232.0,385.03 L233.0,385.89 L234.0,386.78 L235.0,387.69 L236.0,388.61 L237.0,389.56 L238.0,390.53 L239.0,391.51 L240.0,392.52 L241.0,393.53 L242.0,394.56 L243.0,395.61 L244.0,396.67 L245.0,397.73 L246.0,398.81 L247.0,399.90 L248.0,400.99 L249.0,402.10 L250.0,403.20 L251.0,404.32 L252.0,405.43 L253.0,406.55 L254.0,407.68 L255.0,408.80 L256.0,409.92 L257.0,411.04 L258.0,412.16 L259.0,413.28 L260.0,414.39 L261.0,415.50 L262.0,416.60 L263.0,417.70 L264.0,418.79 L265.0,419.87 L266.0,420.94 L267.0,422.01 L268.0,423.07 L269.0,424.11 L270.0,425.14 L271.0,426.17 L272.0,427.18 L273.0,428.18 L274.0,429.16 L275.0,430.13 L276.0,431.09 L277.0,432.03 L278.0,432.96 L279.0,433.87 L280.0,434.77 L281.0,435.65 L282.0,436.52 L283.0,437.36 L284.0,438.19 L285.0,439.01 L286.0,439.80 L287.0,440.58 L288.0,441.34 L289.0,442.08 L290.0,442.81 L291.0,443.51 L292.0,444.20 L293.0,444.86 L294.0,445.51 L295.0,446.14 L296.0,446.75 L297.0,447.34 L298.0,447.91 L299.0,448.46 L300.0,449.00 L301.0,449.51 L302.0,450.00 L303.0,450.48 L304.0,450.93 L305.0,451.37 L306.0,451.78 L307.0,452.18 L308.0,452.55 L309.0,452.91 L310.0,453.24 L311.0,453.56 L312.0,453.86 L313.0,454.13 L314.0,454.39 L315.0,454.63 L316.0,454.85 L317.0,455.05 L318.0,455.23 L319.0,455.39 L320.0,455.53 L321.0,455.65 L322.0,455.75 L323.0,455.84 L324.0,455.90 L325.0,455.95 L326.0,455.97 L327.0,455.98 L328.0,455.97 L329.0,455.94 L330.0,455.89 L331.0,455.82 L332.0,455.74 L333.0,455.63 L334.0,455.51 L335.0,455.36 L336.0,455.20 L337.0,455.02 L338.0,454.83 L339.0,454.61 L340.0,454.38 L341.0,454.13 L342.0,453.86 L343.0,453.57 L344.0,453.26 L345.0,452.94 L346.0,452.60 L347.0,452.25 L348.0,451.87 L349.0,451.48 L350.0,451.07 L351.0,450.65 L352.0,450.21 L353.0,449.75 L354.0,449.27 L355.0,448.78 L356.0,448.28 L357.0,447.76 L358.0,447.22 L359.0,446.67 L360.0,446.10 L361.0,445.52 L362.0,444.92 L363.0,444.31 L364.0,443.69 L365.0,443.05 L366.0,442.40 L367.0,441.74 L368.0,441.06 L369.0,440.37 L370.0,439.68 L371.0,438.97 L372.0,438.24 L373.0,437.51 L374.0,436.77 L375.0,436.02 L376.0,435.26 L377.0,434.49 L378.0,433.72 L379.0,432.94 L380.0,432.15 L381.0,431.35 L382.0,430.55 L383.0,429.75 L384.0,428.94 L385.0,428.12 L386.0,427.31 L387.0,426.49 L388.0,425.67 L389.0,424.85 L390.0,424.03 L391.0,423.21 L392.0,422.40 L393.0,421.58 L394.0,420.77 L395.0,419.96 L396.0,419.16 L397.0,418.36 L398.0,417.57 L399.0,416.79 L400.0,416.01 L401.0,415.24 L402.0,414.49 L403.0,413.74 L404.0,413.00 L405.0,412.28 L406.0,411.57 L407.0,410.88 L408.0,410.20 L409.0,409.53 L410.0,408.88 L411.0,408.25 L412.0,407.64 L413.0,407.04 L414.0,406.46 L415.0,405.91 L416.0,405.37 L417.0,404.86 L418.0,404.37 L419.0,403.90 L420.0,403.46 L421.0,403.04 L422.0,402.64 L423.0,402.27 L424.0,401.93 L425.0,401.61 L426.0,401.32 L427.0,401.06 L428.0,400.82 L429.0,400.61 L430.0,400.43 L431.0,400.28 L432.0,400.15 L433.0,400.06 L434.0,399.99 L435.0,399.96 L436.0,399.95 L437.0,399.97 L438.0,400.02 L439.0,400.10 L440.0,400.21 L441.0,400.35 L442.0,400.52 L443.0,400.71 L444.0,400.94 L445.0,401.19 L446.0,401.47 L447.0,401.77 L448.0,402.11 L449.0,402.47 L450.0,402.86 L451.0,403.27 L452.0,403.71 L453.0,404.17 L454.0,404.66 L455.0,405.17 L456.0,405.70 L457.0,406.26 L458.0,406.83 L459.0,407.43 L460.0,408.05 L461.0,408.69 L462.0,409.34 L463.0,410.02 L464.0,410.71 L465.0,411.42 L466.0,412.15 L467.0,412.89 L468.0,413.64 L469.0,414.41 L470.0,415.19 L471.0,415.98 L472.0,416.78 L473.0,417.60 L474.0,418.42 L475.0,419.25 L476.0,420.09 L477.0,420.94 L478.0,421.79 L479.0,422.65 L480.0,423.51 L481.0,424.38 L482.0,425.25 L483.0,426.12 L484.0,427.00 L485.0,427.87 L486.0,428.75 L487.0,429.63 L488.0,430.50 L489.0,431.38 L490.0,432.25 L491.0,433.12 L492.0,433.99 L493.0,434.85 L494.0,435.71 L495.0,436.57 L496.0,437.42 L497.0,438.26" stroke="#00ff00" stroke-dasharray="8 9.6"/>
<path d="M92.0,470.82 L93.0,469.81 L94.0,468.72 L95.0,467.62 L96.0,466.51 L97.0,465.38 L98.0,464.24 L99.0,463.07 L100.0,461.89 L101.0,460.69 L102.0,459.49 L103.0,458.26 L104.0,457.57 L105.0,456.93 L106.0,456.27 L107.0,455.59 L108.0,454.90 L109.0,454.20 L110.0,453.48 L111.0,452.76 L112.0,452.03 L113.0,451.28 L114.0,450.51 L115.0,449.73 L116.0,448.94 L117.0,448.12 L118.0,447.30 L119.0,446.45 L120.0,445.59 L121.0,444.71 L122.0,443.82 L123.0,442.91 L124.0,441.98 L125.0,441.04 L126.0,440.08 L127.0,439.10 L128.0,438.11 L129.0,437.11 L130.0,436.08 L131.0,435.03 L132.0,433.95 L133.0,432.87 L134.0,431.77 L135.0,430.65 L136.0,429.52 L137.0,428.38 L138.0,427.22 L139.0,426.05 L140.0,424.87 L141.0,423.67 L142.0,422.47 L143.0,421.25 L144.0,420.03 L145.0,418.79 L146.0,417.54 L147.0,416.29 L148.0,415.03 L149.0,413.76 L150.0,412.48 L151.0,411.20 L152.0,409.91 L153.0,408.62 L154.0,407.32 L155.0,406.03 L156.0,404.73 L157.0,403.43 L158.0,402.13 L159.0,400.83 L160.0,399.54 L161.0,398.24 L162.0,396.96 L163.0,395.67 L164.0,394.40 L165.0,393.13 L166.0,391.87 L167.0,390.62 L168.0,389.38 L169.0,388.15 L170.0,386.94 L171.0,385.74 L172.0,384.56 L173.0,383.39 L174.0,382.24 L175.0,381.11 L176.0,380.00 L177.0,378.91 L178.0,377.85 L179.0,376.81 L180.0,375.79 L181.0,374.80 L182.0,373.84 L183.0,372.90 L184.0,372.00 L185.0,371.13 L186.0,370.28 L187.0,369.47 L188.0,368.70 L189.0,367.95 L190.0,367.25 L191.0,366.58 L192.0,365.94 L193.0,365.35 L194.0,364.79 L195.0,364.27 L196.0,363.79 L197.0,363.35 L198.0,362.96 L199.0,362.60 L200.0,362.29 L201.0,362.02 L202.0,361.79 L203.0,361.61 L204.0,361.47 L205.0,361.37 L206.0,361.31 L207.0,361.30 L208.0,361.33 L209.0,361.41 L210.0,361.53 L211.0,361.69 L212.0,361.90 L213.0,362.15 L214.0,362.44 L215.0,362.77 L216.0,363.15 L217.0,363.56 L218.0,364.02 L219.0,364.51 L220.0,365.05 L221.0,365.62 L222.0,366.23 L223.0,366.88 L224.0,367.56 L225.0,368.28 L226.0,369.04 L227.0,369.82 L228.0,370.64 L229.0,371.49 L230.0,372.37 L231.0,373.28 L232.0,374.22 L233.0,375.19 L234.0,376.18 L235.0,377.19 L236.0,378.23 L237.0,379.30 L238.0,380.38 L239.0,381.48 L240.0,382.60 L241.0,383.74 L242.0,384.90 L243.0,386.07 L244.0,387.25 L245.0,388.45 L246.0,389.66 L247.0,390.88 L248.0,392.10 L249.0,393.34 L250.0,394.58 L251.0,395.83 L252.0,397.09 L253.0,398.34 L254.0,399.60 L255.0,400.86 L256.0,402.12 L257.0,403.38 L258.0,404.64 L259.0,405.89 L260.0,407.14 L261.0,408.39 L262.0,409.63 L263.0,410.87 L264.0,412.09 L265.0,413.31 L266.0,414.52 L267.0,415.73 L268.0,416.92 L269.0,418.10 L270.0,419.26 L271.0,420.42 L272.0,421.56 L273.0,422.69 L274.0,423.81 L275.0,424.91 L276.0,425.99 L277.0,427.06 L278.0,428.12 L279.0,429.16 L280.0,430.18 L281.0,431.18 L282.0,432.17 L283.0,433.13 L284.0,434.08 L285.0,435.02 L286.0,435.93 L287.0,436.82 L288.0,437.70 L289.0,438.55 L290.0,439.39 L291.0,440.20 L292.0,441.00 L293.0,441.77 L294.0,442.53 L295.0,443.27 L296.0,443.98 L297.0,444.68 L298.0,445.35 L299.0,446.00 L300.0,446.64 L301.0,447.25 L302.0,447.84 L303.0,448.41 L304.0,448.96 L305.0,449.49 L306.0,450.00 L307.0,450.49 L308.0,450.96 L309.0,451.41 L310.0,451.83 L311.0,452.24 L312.0,452.63 L313.0,452.99 L314.0,453.34 L315.0,453.67 L316.0,453.97 L317.0,454.26 L318.0,454.53 L319.0,454.77 L320.0,455.00 L321.0,455.21 L322.0,455.39 L323.0,455.56 L324.0,455.71 L325.0,455.84 L326.0,455.95 L327.0,456.04 L328.0,456.11 L329.0,456.17 L330.0,456.20 L331.0,456.21 L332.0,456.21 L333.0,456.19 L334.0,456.15 L335.0,456.09 L336.0,456.01 L337.0,455.92 L338.0,455.81 L339.0,455.68 L340.0,455.53 L341.0,455.36 L342.0,455.18 L343.0,454.98 L344.0,454.76 L345.0,454.52 L346.0,454.27 L347.0,454.00 L348.0,453.72 L349.0,453.42 L350.0,453.10 L351.0,452.76 L352.0,452.41 L353.0,452.05 L354.0,451.66 L355.0,451.27 L356.0,450.85 L357.0,450.43 L358.0,449.99 L359.0,449.53 L360.0,449.06 L361.0,448.57 L362.0,448.07 L363.0,447.56 L364.0,447.04 L365.0,446.50 L366.0,445.95 L367.0,445.39 L368.0,444.81 L369.0,444.23 L370.0,443.63 L371.0,443.02 L372.0,442.40 L373.0,441.78 L374.0,441.14 L375.0,440.49 L376.0,439.84 L377.0,439.18 L378.0,438.51 L379.0,437.83 L380.0,437.15 L381.0,436.46 L382.0,435.77 L383.0,435.07 L384.0,434.36 L385.0,433.66 L386.0,432.95 L387.0,432.23 L388.0,431.52 L389.0,430.81 L390.0,430.09 L391.0,429.38 L392.0,428.66 L393.0,427.95 L394.0,427.24 L395.0,426.53 L396.0,425.83 L397.0,425.13 L398.0,424.44 L399.0,423.75 L400.0,423.07 L401.0,422.40 L402.0,421.74 L403.0,421.08 L404.0,420.44 L405.0,419.81 L406.0,419.18 L407.0,418.57 L408.0,417.98 L409.0,417.39 L410.0,416.82 L411.0,416.27 L412.0,415.73 L413.0,415.21 L414.0,414.70 L415.0,414.21 L416.0,413.74 L417.0,413.29 L418.0,412.86 L419.0,412.45 L420.0,412.06 L421.0,411.69 L422.0,411.35 L423.0,411.02 L424.0,410.72 L425.0,410.44 L426.0,410.19 L427.0,409.96 L428.0,409.75 L429.0,409.57 L430.0,409.41 L431.0,409.28 L432.0,409.17 L433.0,409.09 L434.0,409.03 L435.0,409.00 L436.0,409.00 L437.0,409.02 L438.0,409.07 L439.0,409.14 L440.0,409.24 L441.0,409.36 L442.0,409.51 L443.0,409.69 L444.0,409.89 L445.0,410.11 L446.0,410.36 L447.0,410.64 L448.0,410.94 L449.0,411.26 L450.0,411.60 L451.0,411.97 L452.0,412.36 L453.0,412.77 L454.0,413.20 L455.0,413.66 L456.0,414.13 L457.0,414.62 L458.0,415.14 L459.0,415.67 L460.0,416.22 L461.0,416.79 L462.0,417.37 L463.0,417.97 L464.0,418.58 L465.0,419.21 L466.0,419.86 L467.0,420.51 L468.0,421.18 L469.0,421.86 L470.0,422.56 L471.0,423.26 L472.0,423.97 L473.0,424.69 L474.0,425.42 L475.0,426.16 L476.0,426.91 L477.0,427.66 L478.0,428.41 L479.0,429.18 L480.0,429.94 L481.0,430.71 L482.0,431.48 L483.0,432.26 L484.0,433.04 L485.0,433.81 L486.0,434.59 L487.0,435.37 L488.0,436.15 L489.0,436.92 L490.0,437.70 L491.0,438.47 L492.0,439.24 L493.0,440.01 L494.0,440.77 L495.0,441.53 L496.0,442.28 L497.0,443.03" stroke="#f08a10" stroke-dasharray="8 8.8"/>
<path d="M92.0,469.92 L93.0,468.92 L94.0,467.85 L95.0,466.77 L96.0,465.67 L97.0,464.54 L98.0,463.40 L99.0,462.25 L100.0,461.05 L101.0,459.70 L102.0,458.34 L103.0,456.96 L104.0,455.99 L105.0,455.18 L106.0,454.36 L107.0,453.52 L108.0,452.66 L109.0,451.84 L110.0,451.09 L111.0,450.31 L112.0,449.52 L113.0,448.71 L114.0,447.89 L115.0,447.05 L116.0,446.19 L117.0,445.31 L118.0,444.42 L119.0,443.50 L120.0,442.57 L121.0,441.63 L122.0,440.66 L123.0,439.68 L124.0,438.68 L125.0,437.66 L126.0,436.63 L127.0,435.58 L128.0,434.51 L129.0,433.42 L130.0,432.32 L131.0,431.19 L132.0,430.04 L133.0,428.87 L134.0,427.69 L135.0,426.50 L136.0,425.28 L137.0,424.06 L138.0,422.82 L139.0,421.56 L140.0,420.30 L141.0,419.01 L142.0,417.72 L143.0,416.42 L144.0,415.10 L145.0,413.77 L146.0,412.44 L147.0,411.09 L148.0,409.74 L149.0,408.37 L150.0,407.01 L151.0,405.63 L152.0,404.25 L153.0,402.86 L154.0,401.48 L155.0,400.08 L156.0,398.69 L157.0,397.30 L158.0,395.91 L159.0,394.52 L160.0,393.13 L161.0,391.75 L162.0,390.37 L163.0,389.00 L164.0,387.63 L165.0,386.27 L166.0,384.92 L167.0,383.59 L168.0,382.26 L169.0,380.95 L170.0,379.65 L171.0,378.37 L172.0,377.10 L173.0,375.85 L174.0,374.62 L175.0,373.42 L176.0,372.23 L177.0,371.07 L178.0,369.93 L179.0,368.82 L180.0,367.73 L181.0,366.67 L182.0,365.65 L183.0,364.65 L184.0,363.68 L185.0,362.75 L186.0,361.85 L187.0,360.98 L188.0,360.16 L189.0,359.37 L190.0,358.61 L191.0,357.90 L192.0,357.22 L193.0,356.59 L194.0,356.00 L195.0,355.45 L196.0,354.94 L197.0,354.48 L198.0,354.06 L199.0,353.69 L200.0,353.36 L201.0,353.07 L202.0,352.82 L203.0,352.63 L204.0,352.47 L205.0,352.37 L206.0,352.31 L207.0,352.30 L208.0,352.34 L209.0,352.42 L210.0,352.55 L211.0,352.73 L212.0,352.95 L213.0,353.22 L214.0,353.53 L215.0,353.89 L216.0,354.30 L217.0,354.75 L218.0,355.24 L219.0,355.77 L220.0,356.35 L221.0,356.97 L222.0,357.63 L223.0,358.33 L224.0,359.07 L225.0,359.84 L226.0,360.66 L227.0,361.50 L228.0,362.39 L229.0,363.31 L230.0,364.26 L231.0,365.24 L232.0,366.25 L233.0,367.29 L234.0,368.36 L235.0,369.46 L236.0,370.58 L237.0,371.72 L238.0,372.89 L239.0,374.08 L240.0,375.29 L241.0,376.52 L242.0,377.77 L243.0,379.03 L244.0,380.31 L245.0,381.60 L246.0,382.91 L247.0,384.23 L248.0,385.55 L249.0,386.89 L250.0,388.23 L251.0,389.58 L252.0,390.93 L253.0,392.29 L254.0,393.65 L255.0,395.01 L256.0,396.37 L257.0,397.74 L258.0,399.10 L259.0,400.45 L260.0,401.81 L261.0,403.16 L262.0,404.50 L263.0,405.84 L264.0,407.16 L265.0,408.49 L266.0,409.80 L267.0,411.10 L268.0,412.39 L269.0,413.67 L270.0,414.94 L271.0,416.19 L272.0,417.43 L273.0,418.66 L274.0,419.87 L275.0,421.07 L276.0,422.25 L277.0,423.41 L278.0,424.56 L279.0,425.69 L280.0,426.80 L281.0,427.90 L282.0,428.98 L283.0,430.03 L284.0,431.07 L285.0,432.09 L286.0,433.09 L287.0,434.07 L288.0,435.03 L289.0,435.97 L290.0,436.89 L291.0,437.79 L292.0,438.66 L293.0,439.52 L294.0,440.36 L295.0,441.17 L296.0,441.97 L297.0,442.74 L298.0,443.49 L299.0,444.22 L300.0,444.93 L301.0,445.61 L302.0,446.28 L303.0,446.92 L304.0,447.55 L305.0,448.15 L306.0,448.73 L307.0,449.29 L308.0,449.83 L309.0,450.34 L310.0,450.84 L311.0,451.31 L312.0,451.77 L313.0,452.20 L314.0,452.62 L315.0,453.01 L316.0,453.38 L317.0,453.73 L318.0,454.06 L319.0,454.38 L320.0,454.67 L321.0,454.94 L322.0,455.19 L323.0,455.42 L324.0,455.64 L325.0,455.83 L326.0,456.00 L327.0,456.16 L328.0,456.29 L329.0,456.41 L330.0,456.51 L331.0,456.59 L332.0,456.65 L333.0,456.69 L334.0,456.72 L335.0,456.72 L336.0,456.71 L337.0,456.68 L338.0,456.63 L339.0,456.57 L340.0,456.48 L341.0,456.38 L342.0,456.27 L343.0,456.13 L344.0,455.98 L345.0,455.81 L346.0,455.63 L347.0,455.43 L348.0,455.21 L349.0,454.98 L350.0,454.73 L351.0,454.47 L352.0,454.19 L353.0,453.89 L354.0,453.58 L355.0,453.26 L356.0,452.92 L357.0,452.56 L358.0,452.20 L359.0,451.81 L360.0,451.42 L361.0,451.01 L362.0,450.59 L363.0,450.15 L364.0,449.70 L365.0,449.24 L366.0,448.77 L367.0,448.29 L368.0,447.79 L369.0,447.29 L370.0,446.77 L371.0,446.24 L372.0,445.71 L373.0,445.16 L374.0,444.61 L375.0,444.04 L376.0,443.47 L377.0,442.89 L378.0,442.30 L379.0,441.71 L380.0,441.11 L381.0,440.51 L382.0,439.89 L383.0,439.28 L384.0,438.66 L385.0,438.04 L386.0,437.41 L387.0,436.78 L388.0,436.15 L389.0,435.52 L390.0,434.88 L391.0,434.25 L392.0,433.62 L393.0,432.99 L394.0,432.36 L395.0,431.73 L396.0,431.11 L397.0,430.49 L398.0,429.87 L399.0,429.26 L400.0,428.66 L401.0,428.06 L402.0,427.47 L403.0,426.89 L404.0,426.32 L405.0,425.75 L406.0,425.20 L407.0,424.66 L408.0,424.13 L409.0,423.61 L410.0,423.10 L411.0,422.60 L412.0,422.12 L413.0,421.66 L414.0,421.21 L415.0,420.78 L416.0,420.36 L417.0,419.96 L418.0,419.57 L419.0,419.21 L420.0,418.86 L421.0,418.53 L422.0,418.23 L423.0,417.94 L424.0,417.67 L425.0,417.42 L426.0,417.19 L427.0,416.99 L428.0,416.81 L429.0,416.65 L430.0,416.51 L431.0,416.39 L432.0,416.30 L433.0,416.22 L434.0,416.18 L435.0,416.15 L436.0,416.15 L437.0,416.17 L438.0,416.21 L439.0,416.28 L440.0,416.37 L441.0,416.49 L442.0,416.62 L443.0,416.78 L444.0,416.96 L445.0,417.17 L446.0,417.39 L447.0,417.64 L448.0,417.91 L449.0,418.20 L450.0,418.51 L451.0,418.84 L452.0,419.19 L453.0,419.56 L454.0,419.96 L455.0,420.36 L456.0,420.79 L457.0,421.24 L458.0,421.70 L459.0,422.18 L460.0,422.67 L461.0,423.18 L462.0,423.71 L463.0,424.25 L464.0,424.80 L465.0,425.37 L466.0,425.95 L467.0,426.54 L468.0,427.14 L469.0,427.75 L470.0,428.38 L471.0,429.01 L472.0,429.65 L473.0,430.30 L474.0,430.96 L475.0,431.62 L476.0,432.29 L477.0,432.97 L478.0,433.65 L479.0,434.33 L480.0,435.02 L481.0,435.72 L482.0,436.41 L483.0,437.11 L484.0,437.81 L485.0,438.51 L486.0,439.21 L487.0,439.91 L488.0,440.61 L489.0,441.30 L490.0,442.00 L491.0,442.70 L492.0,443.39 L493.0,444.08 L494.0,444.76 L495.0,445.45 L496.0,446.13 L497.0,446.80" stroke="#00ffff" stroke-dasharray="10 5.3 2.5 5.3"/>
<path d="M92.0,469.07 L93.0,468.04 L94.0,466.94 L95.0,465.82 L96.0,464.70 L97.0,463.54 L98.0,462.36 L99.0,461.18 L100.0,459.94 L101.0,458.56 L102.0,457.16 L103.0,455.75 L104.0,454.71 L105.0,453.83 L106.0,452.92 L107.0,452.01 L108.0,451.07 L109.0,450.18 L110.0,449.36 L111.0,448.52 L112.0,447.67 L113.0,446.80 L114.0,445.91 L115.0,445.01 L116.0,444.11 L117.0,443.18 L118.0,442.23 L119.0,441.27 L120.0,440.29 L121.0,439.29 L122.0,438.27 L123.0,437.23 L124.0,436.17 L125.0,435.10 L126.0,434.00 L127.0,432.89 L128.0,431.76 L129.0,430.62 L130.0,429.45 L131.0,428.25 L132.0,427.03 L133.0,425.80 L134.0,424.55 L135.0,423.28 L136.0,422.00 L137.0,420.70 L138.0,419.38 L139.0,418.06 L140.0,416.71 L141.0,415.36 L142.0,413.99 L143.0,412.61 L144.0,411.21 L145.0,409.81 L146.0,408.39 L147.0,406.97 L148.0,405.53 L149.0,404.09 L150.0,402.64 L151.0,401.18 L152.0,399.72 L153.0,398.26 L154.0,396.79 L155.0,395.31 L156.0,393.84 L157.0,392.36 L158.0,390.90 L159.0,389.44 L160.0,387.98 L161.0,386.53 L162.0,385.08 L163.0,383.64 L164.0,382.20 L165.0,380.78 L166.0,379.36 L167.0,377.95 L168.0,376.56 L169.0,375.18 L170.0,373.82 L171.0,372.47 L172.0,371.14 L173.0,369.83 L174.0,368.54 L175.0,367.27 L176.0,366.02 L177.0,364.80 L178.0,363.61 L179.0,362.44 L180.0,361.30 L181.0,360.19 L182.0,359.11 L183.0,358.06 L184.0,357.05 L185.0,356.07 L186.0,355.13 L187.0,354.22 L188.0,353.36 L189.0,352.53 L190.0,351.74 L191.0,350.99 L192.0,350.29 L193.0,349.63 L194.0,349.01 L195.0,348.43 L196.0,347.91 L197.0,347.43 L198.0,346.99 L199.0,346.60 L200.0,346.26 L201.0,345.96 L202.0,345.70 L203.0,345.49 L204.0,345.33 L205.0,345.22 L206.0,345.16 L207.0,345.15 L208.0,345.19 L209.0,345.28 L210.0,345.42 L211.0,345.61 L212.0,345.84 L213.0,346.13 L214.0,346.46 L215.0,346.84 L216.0,347.27 L217.0,347.75 L218.0,348.27 L219.0,348.83 L220.0,349.44 L221.0,350.10 L222.0,350.80 L223.0,351.54 L224.0,352.32 L225.0,353.14 L226.0,354.00 L227.0,354.90 L228.0,355.83 L229.0,356.80 L230.0,357.81 L231.0,358.85 L232.0,359.92 L233.0,361.02 L234.0,362.15 L235.0,363.31 L236.0,364.50 L237.0,365.71 L238.0,366.95 L239.0,368.21 L240.0,369.49 L241.0,370.79 L242.0,372.11 L243.0,373.45 L244.0,374.80 L245.0,376.17 L246.0,377.55 L247.0,378.94 L248.0,380.35 L249.0,381.76 L250.0,383.18 L251.0,384.61 L252.0,386.05 L253.0,387.48 L254.0,388.93 L255.0,390.37 L256.0,391.81 L257.0,393.26 L258.0,394.70 L259.0,396.14 L260.0,397.57 L261.0,399.00 L262.0,400.43 L263.0,401.84 L264.0,403.26 L265.0,404.66 L266.0,406.05 L267.0,407.43 L268.0,408.80 L269.0,410.16 L270.0,411.51 L271.0,412.84 L272.0,414.16 L273.0,415.46 L274.0,416.75 L275.0,418.03 L276.0,419.28 L277.0,420.52 L278.0,421.75 L279.0,422.95 L280.0,424.14 L281.0,425.30 L282.0,426.45 L283.0,427.58 L284.0,428.69 L285.0,429.78 L286.0,430.85 L287.0,431.90 L288.0,432.93 L289.0,433.93 L290.0,434.92 L291.0,435.88 L292.0,436.83 L293.0,437.75 L294.0,438.65 L295.0,439.53 L296.0,440.38 L297.0,441.22 L298.0,442.03 L299.0,442.82 L300.0,443.59 L301.0,444.34 L302.0,445.06 L303.0,445.76 L304.0,446.45 L305.0,447.10 L306.0,447.74 L307.0,448.36 L308.0,448.95 L309.0,449.53 L310.0,450.08 L311.0,450.61 L312.0,451.12 L313.0,451.61 L314.0,452.07 L315.0,452.52 L316.0,452.95 L317.0,453.35 L318.0,453.74 L319.0,454.10 L320.0,454.44 L321.0,454.77 L322.0,455.07 L323.0,455.36 L324.0,455.62 L325.0,455.87 L326.0,456.09 L327.0,456.30 L328.0,456.49 L329.0,456.66 L330.0,456.81 L331.0,456.94 L332.0,457.05 L333.0,457.15 L334.0,457.23 L335.0,457.29 L336.0,457.33 L337.0,457.35 L338.0,457.36 L339.0,457.34 L340.0,457.32 L341.0,457.27 L342.0,457.21 L343.0,457.13 L344.0,457.03 L345.0,456.92 L346.0,456.79 L347.0,456.65 L348.0,456.49 L349.0,456.32 L350.0,456.12 L351.0,455.92 L352.0,455.70 L353.0,455.46 L354.0,455.21 L355.0,454.95 L356.0,454.67 L357.0,454.37 L358.0,454.07 L359.0,453.75 L360.0,453.41 L361.0,453.07 L362.0,452.71 L363.0,452.34 L364.0,451.95 L365.0,451.56 L366.0,451.15 L367.0,450.73 L368.0,450.31 L369.0,449.87 L370.0,449.42 L371.0,448.96 L372.0,448.49 L373.0,448.01 L374.0,447.52 L375.0,447.03 L376.0,446.53 L377.0,446.01 L378.0,445.50 L379.0,444.97 L380.0,444.44 L381.0,443.91 L382.0,443.37 L383.0,442.82 L384.0,442.27 L385.0,441.72 L386.0,441.16 L387.0,440.60 L388.0,440.04 L389.0,439.48 L390.0,438.91 L391.0,438.35 L392.0,437.78 L393.0,437.22 L394.0,436.66 L395.0,436.10 L396.0,435.54 L397.0,434.99 L398.0,434.44 L399.0,433.89 L400.0,433.35 L401.0,432.82 L402.0,432.29 L403.0,431.77 L404.0,431.25 L405.0,430.75 L406.0,430.25 L407.0,429.76 L408.0,429.29 L409.0,428.82 L410.0,428.37 L411.0,427.92 L412.0,427.49 L413.0,427.08 L414.0,426.67 L415.0,426.28 L416.0,425.91 L417.0,425.55 L418.0,425.21 L419.0,424.88 L420.0,424.57 L421.0,424.27 L422.0,424.00 L423.0,423.74 L424.0,423.50 L425.0,423.28 L426.0,423.07 L427.0,422.89 L428.0,422.73 L429.0,422.58 L430.0,422.46 L431.0,422.36 L432.0,422.27 L433.0,422.21 L434.0,422.17 L435.0,422.15 L436.0,422.15 L437.0,422.17 L438.0,422.21 L439.0,422.27 L440.0,422.36 L441.0,422.46 L442.0,422.59 L443.0,422.73 L444.0,422.90 L445.0,423.08 L446.0,423.29 L447.0,423.52 L448.0,423.76 L449.0,424.02 L450.0,424.31 L451.0,424.61 L452.0,424.93 L453.0,425.27 L454.0,425.62 L455.0,425.99 L456.0,426.38 L457.0,426.78 L458.0,427.20 L459.0,427.64 L460.0,428.09 L461.0,428.55 L462.0,429.03 L463.0,429.52 L464.0,430.02 L465.0,430.53 L466.0,431.06 L467.0,431.59 L468.0,432.14 L469.0,432.70 L470.0,433.26 L471.0,433.84 L472.0,434.42 L473.0,435.01 L474.0,435.60 L475.0,436.20 L476.0,436.81 L477.0,437.42 L478.0,438.04 L479.0,438.66 L480.0,439.29 L481.0,439.91 L482.0,440.54 L483.0,441.18 L484.0,441.81 L485.0,442.44 L486.0,443.08 L487.0,443.71 L488.0,444.35 L489.0,444.98 L490.0,445.61 L491.0,446.24 L492.0,446.87 L493.0,447.49 L494.0,448.11 L495.0,448.73 L496.0,449.35 L497.0,449.96" stroke="#0000ff" stroke-dasharray="8 4.9 2.5 4.9 2.5 4.9"/>
</g>
<rect x="227.9" y="191.7" width="156.5" height="79.9" fill="#fff" stroke="#7c7c7c" stroke-width="1.5"/>
<path d="M229.1,198.4 H257.3" stroke="#ff0000" stroke-width="1.65" fill="none"/>
<path d="M229.1,214.6 H237.2 M243.9,214.6 H252.2" stroke="#00ff00" stroke-width="1.65" fill="none"/>
<path d="M229.4,230.7 H232.0 M238.2,230.7 H240.8 M247.1,230.7 H249.7" stroke="#f08a10" stroke-width="1.65" fill="none"/>
<path d="M229.1,246.8 H238.5 M241.9,246.8 H244.9 M247.7,246.8 H257.0" stroke="#00ffff" stroke-width="1.65" fill="none"/>
<path d="M229.1,262.8 H236.1 M239.7,262.8 H242.3 M245.8,262.8 H248.4 M251.6,262.8 H257.3" stroke="#0000ff" stroke-width="1.65" fill="none"/>
<g style="opacity:0.999">
<text transform="translate(84.5,214.6) scale(1.125,1)" font-size="11.7" text-anchor="end" font-family="Liberation Sans, sans-serif" fill="#000">2.4</text>
<text transform="translate(84.5,257.5) scale(1.125,1)" font-size="11.7" text-anchor="end" font-family="Liberation Sans, sans-serif" fill="#000">2.1</text>
<text transform="translate(84.5,300.4) scale(1.125,1)" font-size="11.7" text-anchor="end" font-family="Liberation Sans, sans-serif" fill="#000">1.8</text>
<text transform="translate(84.5,369.4) scale(1.125,1)" font-size="11.7" text-anchor="end" font-family="Liberation Sans, sans-serif" fill="#000">0.006</text>
<text transform="translate(84.5,426.6) scale(1.125,1)" font-size="11.7" text-anchor="end" font-family="Liberation Sans, sans-serif" fill="#000">0.003</text>
<text transform="translate(84.5,483.8) scale(1.125,1)" font-size="11.7" text-anchor="end" font-family="Liberation Sans, sans-serif" fill="#000">0.000</text>
<text transform="translate(91.35,496.4) scale(1.125,1)" font-size="11.7" text-anchor="middle" font-family="Liberation Sans, sans-serif" fill="#000">-20</text>
<text transform="translate(206.6,496.4) scale(1.125,1)" font-size="11.7" text-anchor="middle" font-family="Liberation Sans, sans-serif" fill="#000">-10</text>
<text transform="translate(321.35,496.4) scale(1.125,1)" font-size="11.7" text-anchor="middle" font-family="Liberation Sans, sans-serif" fill="#000">0</text>
<text transform="translate(436.1,496.4) scale(1.125,1)" font-size="11.7" text-anchor="middle" font-family="Liberation Sans, sans-serif" fill="#000">10</text>
<text transform="translate(300.75,518.3) scale(1.04,1)" font-size="13.5" text-anchor="start" font-family="Liberation Sans, sans-serif" fill="#000">&#946;</text>
<text transform="translate(312.1,518.3) scale(1.237,1)" font-size="13.5" text-anchor="start" font-family="Liberation Sans, sans-serif" fill="#000">eV</text>
<text transform="translate(331.8,523.5) scale(1.1,1)" font-size="8.6" text-anchor="start" font-family="Liberation Sans, sans-serif" fill="#000">34</text>
<text transform="translate(41.3,306.9) rotate(-90) scale(0.872,1)" font-size="17" text-anchor="start" font-family="Liberation Sans, sans-serif" fill="#000">S<tspan font-size="8.4" dy="6">11</tspan><tspan dy="-6" font-size="0.1">&#8203;</tspan>(<tspan font-size="16.5">w</tspan>)/(4k<tspan font-size="8.4" dy="6">B</tspan><tspan dy="-6" font-size="0.1">&#8203;</tspan>TG<tspan font-size="8.4" dy="6">11</tspan><tspan dy="-6" font-size="0.1">&#8203;</tspan>)</text>
<text transform="translate(25.1,484.6) rotate(-90) scale(0.858,1)" font-size="13.8" text-anchor="start" font-family="Liberation Sans, sans-serif" fill="#000">d<tspan font-size="6.8" dy="-7.8">2</tspan><tspan dy="7.8" font-size="0.1">&#8203;</tspan>[S<tspan font-size="7.2" dy="5.5">11</tspan><tspan dy="-5.5" font-size="0.1">&#8203;</tspan>(<tspan font-size="11.8">w</tspan>)/(4k<tspan font-size="7.2" dy="5.5">B</tspan><tspan dy="-5.5" font-size="0.1">&#8203;</tspan>TG<tspan font-size="7.2" dy="5.5">11</tspan><tspan dy="-5.5" font-size="0.1">&#8203;</tspan>)]/d[&#946; eV<tspan font-size="7.2" dy="5.5">34</tspan><tspan dy="-5.5" font-size="0.1">&#8203;</tspan>]<tspan font-size="6.8" dy="-7.8">2</tspan><tspan dy="7.8" font-size="0.1">&#8203;</tspan></text>
<text transform="translate(259.6,202.4) scale(1.148,1)" font-size="10.2" text-anchor="start" font-family="Liberation Sans, sans-serif" fill="#000">N<tspan font-size="6.5" dy="3.8">1</tspan><tspan dy="-3.8" font-size="0.1">&#8203;</tspan>=15, N<tspan font-size="6.5" dy="3.8">2</tspan><tspan dy="-3.8" font-size="0.1">&#8203;</tspan>=N<tspan font-size="6.5" dy="3.8">3</tspan><tspan dy="-3.8" font-size="0.1">&#8203;</tspan>=15, N<tspan font-size="6.5" dy="3.8">4</tspan><tspan dy="-3.8" font-size="0.1">&#8203;</tspan>=0</text>
<text transform="translate(259.6,218.6) scale(1.148,1)" font-size="10.2" text-anchor="start" font-family="Liberation Sans, sans-serif" fill="#000">N<tspan font-size="6.5" dy="3.8">1</tspan><tspan dy="-3.8" font-size="0.1">&#8203;</tspan>=15, N<tspan font-size="6.5" dy="3.8">2</tspan><tspan dy="-3.8" font-size="0.1">&#8203;</tspan>=N<tspan font-size="6.5" dy="3.8">3</tspan><tspan dy="-3.8" font-size="0.1">&#8203;</tspan>=20, N<tspan font-size="6.5" dy="3.8">4</tspan><tspan dy="-3.8" font-size="0.1">&#8203;</tspan>=0</text>
<text transform="translate(259.6,234.7) scale(1.148,1)" font-size="10.2" text-anchor="start" font-family="Liberation Sans, sans-serif" fill="#000">N<tspan font-size="6.5" dy="3.8">1</tspan><tspan dy="-3.8" font-size="0.1">&#8203;</tspan>=15, N<tspan font-size="6.5" dy="3.8">2</tspan><tspan dy="-3.8" font-size="0.1">&#8203;</tspan>=N<tspan font-size="6.5" dy="3.8">3</tspan><tspan dy="-3.8" font-size="0.1">&#8203;</tspan>=25, N<tspan font-size="6.5" dy="3.8">4</tspan><tspan dy="-3.8" font-size="0.1">&#8203;</tspan>=0</text>
<text transform="translate(259.6,250.8) scale(1.148,1)" font-size="10.2" text-anchor="start" font-family="Liberation Sans, sans-serif" fill="#000">N<tspan font-size="6.5" dy="3.8">1</tspan><tspan dy="-3.8" font-size="0.1">&#8203;</tspan>=15, N<tspan font-size="6.5" dy="3.8">2</tspan><tspan dy="-3.8" font-size="0.1">&#8203;</tspan>=N<tspan font-size="6.5" dy="3.8">3</tspan><tspan dy="-3.8" font-size="0.1">&#8203;</tspan>=30, N<tspan font-size="6.5" dy="3.8">4</tspan><tspan dy="-3.8" font-size="0.1">&#8203;</tspan>=0</text>
<text transform="translate(259.6,266.8) scale(1.148,1)" font-size="10.2" text-anchor="start" font-family="Liberation Sans, sans-serif" fill="#000">N<tspan font-size="6.5" dy="3.8">1</tspan><tspan dy="-3.8" font-size="0.1">&#8203;</tspan>=15, N<tspan font-size="6.5" dy="3.8">2</tspan><tspan dy="-3.8" font-size="0.1">&#8203;</tspan>=N<tspan font-size="6.5" dy="3.8">3</tspan><tspan dy="-3.8" font-size="0.1">&#8203;</tspan>=35, N<tspan font-size="6.5" dy="3.8">4</tspan><tspan dy="-3.8" font-size="0.1">&#8203;</tspan>=0</text>
</g>
</svg>
</body></html>
